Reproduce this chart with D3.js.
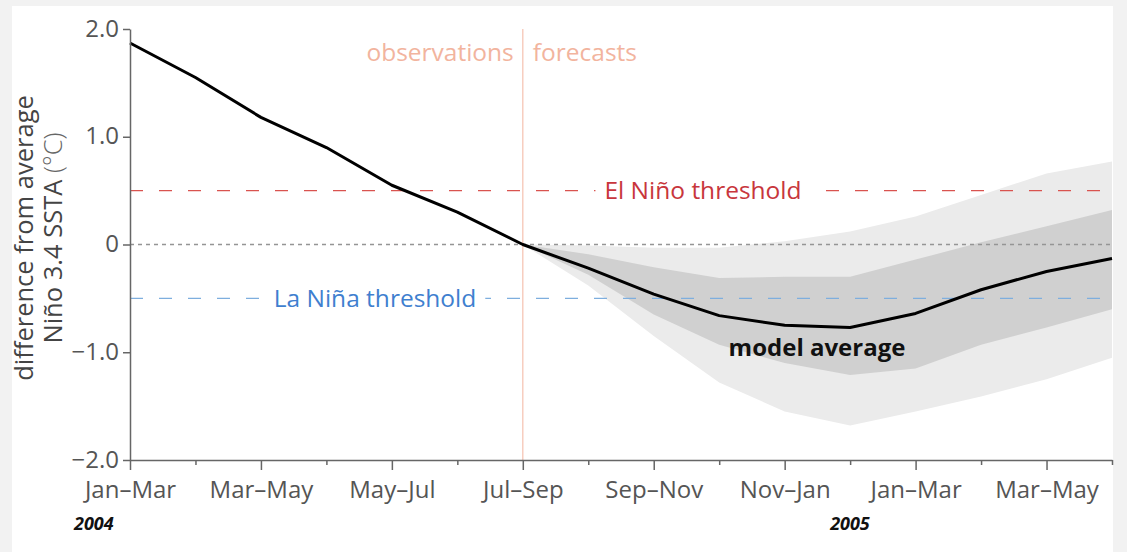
<!DOCTYPE html>
<html>
<head>
<meta charset="utf-8">
<script src="https://cdn.jsdelivr.net/npm/d3@7"></script>
<style>
  html, body { margin: 0; padding: 0; background: #f2f2f2; }
  svg { display: block; font-family: "Open Sans", "Noto Sans", sans-serif; }
</style>
</head>
<body>
<svg id="chart" width="1127" height="552"></svg>
<script>
// Seasons (3-month running periods), Jan–Mar 2004 through Apr–Jun 2005
const seasonLabels = ["Jan–Mar", "", "Mar–May", "", "May–Jul", "", "Jul–Sep", "",
                      "Sep–Nov", "", "Nov–Jan", "", "Jan–Mar", "", "Mar–May", ""];
const yearLabels = [{ index: 0, text: "2004" }, { index: 11, text: "2005" }];

// Niño 3.4 SST anomaly (°C): observed through Jul–Sep, model average afterwards
const modelAverage = [1.87, 1.55, 1.18, 0.90, 0.55, 0.30, 0.0, -0.22,
                      -0.46, -0.66, -0.75, -0.77, -0.64, -0.42, -0.25, -0.13];
const forecastStart = 6;

// Forecast spread, from Jul–Sep onward
const innerLow  = [0, -0.28, -0.65, -0.93, -1.10, -1.21, -1.15, -0.93, -0.77, -0.60];
const innerHigh = [0, -0.09, -0.21, -0.31, -0.30, -0.30, -0.14, 0.02, 0.17, 0.32];
const outerLow  = [0, -0.38, -0.85, -1.28, -1.55, -1.68, -1.55, -1.41, -1.25, -1.05];
const outerHigh = [0, -0.01, -0.03, -0.03, 0.03, 0.12, 0.26, 0.46, 0.66, 0.77];

const yTicks = [-2, -1, 0, 1, 2];
const elNinoThreshold = 0.5;
const laNinaThreshold = -0.5;

const svg = d3.select("#chart");

// white panel
svg.append("rect").attr("x", 12).attr("y", 6).attr("width", 1101).attr("height", 546).attr("fill", "#fff");

const x = d3.scaleLinear().domain([0, seasonLabels.length - 1]).range([130, 1112]);
const y = d3.scaleLinear().domain([-2, 2]).range([460, 29]);

const g = svg.append("g");

// forecast spread bands
const bandOuter = outerLow.map((lo, i) => ({ i: forecastStart + i, lo, hi: outerHigh[i] }));
const bandInner = innerLow.map((lo, i) => ({ i: forecastStart + i, lo, hi: innerHigh[i] }));
const area = d3.area().x(d => x(d.i)).y0(d => y(d.lo)).y1(d => y(d.hi));
g.append("path").datum(bandOuter).attr("d", area).attr("fill", "#ebebeb");
g.append("path").datum(bandInner).attr("d", area).attr("fill", "#d0d0d0");

// zero line
g.append("line").attr("x1", x(0)).attr("x2", x(15)).attr("y1", y(0)).attr("y2", y(0))
  .attr("stroke", "#959595").attr("stroke-width", 1.4).attr("stroke-dasharray", "4,4");

// threshold lines with labels
function threshold(val, color, textColor, label, cx) {
  g.append("line").attr("x1", x(0)).attr("x2", x(15)).attr("y1", y(val)).attr("y2", y(val))
    .attr("stroke", color).attr("stroke-width", 1.3).attr("stroke-dasharray", "13,16");
  const bg = g.append("rect").attr("fill", "#fff");
  const t = g.append("text").attr("x", cx).attr("y", y(val)).attr("dy", "0.35em")
    .attr("text-anchor", "middle").attr("fill", textColor).attr("font-size", 24.5).text(label);
  const b = t.node().getBBox();
  bg.attr("x", b.x - 9).attr("y", b.y + 3).attr("width", b.width + 18).attr("height", b.height - 6);
}
threshold(elNinoThreshold, "#d9534f", "#c8363c", "El Niño threshold", 703);
threshold(laNinaThreshold, "#7eaede", "#3f7fcf", "La Niña threshold", 375);

// observations / forecasts divider
g.append("line").attr("x1", x(forecastStart)).attr("x2", x(forecastStart))
  .attr("y1", y(2)).attr("y2", y(-2)).attr("stroke", "#f6c6b6").attr("stroke-width", 1.3);
g.append("text").attr("x", x(forecastStart) - 9).attr("y", 52).attr("dy", "0.35em")
  .attr("text-anchor", "end").attr("fill", "#f2b49e").attr("font-size", 24.5).text("observations");
g.append("text").attr("x", x(forecastStart) + 10).attr("y", 52).attr("dy", "0.35em")
  .attr("text-anchor", "start").attr("fill", "#f2b49e").attr("font-size", 24.5).text("forecasts");

// model average line
const line = d3.line().x((d, i) => x(i)).y(d => y(d));
g.append("path").datum(modelAverage).attr("d", line).attr("fill", "none")
  .attr("stroke", "#000").attr("stroke-width", 3).attr("stroke-linejoin", "round");

g.append("text").attr("x", 817).attr("y", 348).attr("dy", "0.35em").attr("text-anchor", "middle")
  .attr("font-size", 24).attr("font-weight", 700).attr("fill", "#111").text("model average");

// axes
const yAxis = svg.append("g").attr("transform", `translate(${x(0)},0)`)
  .call(d3.axisLeft(y).tickValues(yTicks).tickSize(7).tickSizeOuter(0)
    .tickFormat(d => d === 0 ? "0" : d3.format(".1f")(d).replace("-", "−")));
yAxis.select(".domain").attr("stroke", "#666").attr("stroke-width", 1.5);
yAxis.selectAll(".tick line").attr("stroke", "#666").attr("stroke-width", 1.5);
yAxis.selectAll(".tick text").attr("fill", "#555").attr("font-size", 24)
  .attr("font-family", "Open Sans").attr("x", -11).attr("dy", "0.3em");

const xAxis = svg.append("g").attr("transform", `translate(0,${y(-2)})`)
  .call(d3.axisBottom(x).tickValues(d3.range(seasonLabels.length)).tickSize(10).tickSizeOuter(0)
    .tickFormat(i => seasonLabels[i]));
xAxis.select(".domain").attr("stroke", "#666").attr("stroke-width", 1.5);
xAxis.selectAll(".tick line").attr("stroke", "#666").attr("stroke-width", 1.5)
  .attr("y2", i => seasonLabels[i] ? 10 : 5);
xAxis.selectAll(".tick text").attr("fill", "#555").attr("font-size", 24)
  .attr("font-family", "Open Sans").attr("y", 21);

// year labels
svg.selectAll(".year").data(yearLabels).enter().append("text")
  .attr("x", d => d.index === 0 ? 74 : x(d.index) - 20).attr("y", 530)
  .attr("font-size", 18).attr("font-weight", 700).attr("font-style", "italic")
  .attr("fill", "#111").text(d => d.text);

// y-axis title
const title = svg.append("text").attr("transform", "translate(0,238) rotate(-90)")
  .attr("text-anchor", "middle").attr("fill", "#444").attr("font-size", 25.5);
title.append("tspan").attr("x", 0).attr("y", 33).text("difference from average");
const l2 = title.append("tspan").attr("x", 0).attr("y", 62);
l2.text("Niño 3.4 SSTA ");
title.append("tspan").attr("font-weight", 300).attr("fill", "#666").text("(°C)");
</script>
</body>
</html>
